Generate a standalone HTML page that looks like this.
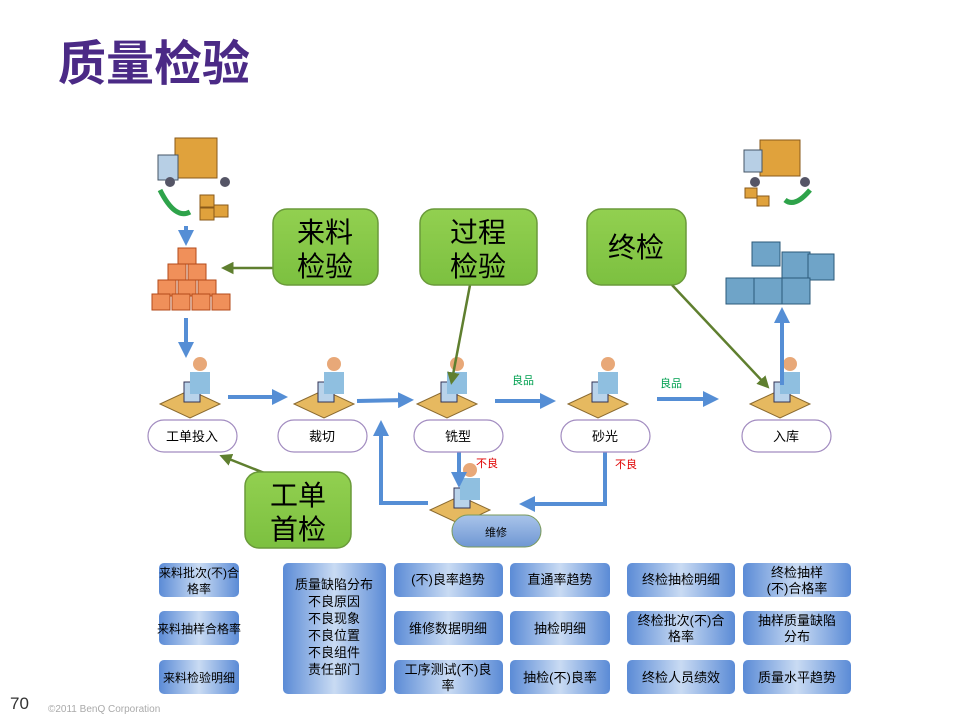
<!DOCTYPE html>
<html><head><meta charset="utf-8"><style>
body{margin:0;width:960px;height:720px;background:#fff;overflow:hidden;font-family:"Liberation Sans","Noto Sans CJK SC",sans-serif;}
text{font-family:"Liberation Sans","Noto Sans CJK SC",sans-serif;}
</style></head><body>
<svg width="960" height="720" viewBox="0 0 960 720" xmlns="http://www.w3.org/2000/svg">
<defs>
<marker id="ab" markerWidth="4" markerHeight="4" refX="2.5" refY="2" orient="auto"><path d="M0,0 L4,2 L0,4 z" fill="#558ed5"/></marker>
<marker id="ag" markerWidth="5" markerHeight="5" refX="3" refY="2.5" orient="auto"><path d="M0,0 L5,2.5 L0,5 z" fill="#5f7f2f"/></marker>
<linearGradient id="gb" x1="0" x2="1"><stop offset="0" stop-color="#5b8bd6"/><stop offset="0.5" stop-color="#c9dbf3"/><stop offset="1" stop-color="#5b8bd6"/></linearGradient>
<linearGradient id="gg" x1="0" y1="0" x2="0" y2="1"><stop offset="0" stop-color="#92d050"/><stop offset="1" stop-color="#7cc040"/></linearGradient>
<linearGradient id="gr" x1="0" y1="0" x2="0" y2="1"><stop offset="0" stop-color="#a9c4ea"/><stop offset="1" stop-color="#6f97d3"/></linearGradient>
<g id="desk"><path d="M-30,12 L0,-2 L30,12 L0,26 z" fill="#e6b960" stroke="#8a6a30"/><rect x="-6" y="-10" width="16" height="20" fill="#b9d3ea" stroke="#335"/><circle cx="10" cy="-28" r="7" fill="#e8a878"/><path d="M0,-20 h20 v22 h-20 z" fill="#8fbfe0"/></g>
</defs>
<text x="58" y="80" font-size="48" font-weight="bold" fill="#4b2a86">质量检验</text>

<rect x="175" y="138" width="42" height="40" fill="#e0a23c" stroke="#8a5a1a"/>
<rect x="158" y="155" width="20" height="25" fill="#b7cfe5" stroke="#456"/>
<circle cx="170" cy="182" r="5" fill="#556"/><circle cx="225" cy="182" r="5" fill="#556"/>
<path d="M160,190 q15,30 30,22" stroke="#2ea34a" stroke-width="5" fill="none"/>
<rect x="200" y="195" width="14" height="12" fill="#e0a23c" stroke="#8a5a1a"/><rect x="214" y="205" width="14" height="12" fill="#e0a23c" stroke="#8a5a1a"/><rect x="200" y="208" width="14" height="12" fill="#e0a23c" stroke="#8a5a1a"/>
<g fill="#f0905a" stroke="#b34a1a">
<rect x="178" y="248" width="18" height="16"/>
<rect x="168" y="264" width="18" height="16"/><rect x="188" y="264" width="18" height="16"/>
<rect x="158" y="280" width="18" height="16"/><rect x="178" y="280" width="18" height="16"/><rect x="198" y="280" width="18" height="16"/>
<rect x="152" y="294" width="18" height="16"/><rect x="172" y="294" width="18" height="16"/><rect x="192" y="294" width="18" height="16"/><rect x="212" y="294" width="18" height="16"/>
</g>
<rect x="760" y="140" width="40" height="36" fill="#e0a23c" stroke="#8a5a1a"/>
<rect x="744" y="150" width="18" height="22" fill="#b7cfe5" stroke="#456"/>
<circle cx="755" cy="182" r="5" fill="#556"/><circle cx="805" cy="182" r="5" fill="#556"/>
<path d="M785,200 q10,8 25,-10" stroke="#2ea34a" stroke-width="5" fill="none"/>
<rect x="745" y="188" width="12" height="10" fill="#e0a23c" stroke="#8a5a1a"/><rect x="757" y="196" width="12" height="10" fill="#e0a23c" stroke="#8a5a1a"/>
<g fill="#6fa4c8" stroke="#2b5a7a">
<rect x="752" y="242" width="28" height="24"/>
<rect x="782" y="252" width="28" height="26"/><rect x="808" y="254" width="26" height="26"/>
<rect x="726" y="278" width="28" height="26"/><rect x="754" y="278" width="28" height="26"/><rect x="782" y="278" width="28" height="26"/>
</g>

<use href="#desk" x="190" y="392"/>
<use href="#desk" x="324" y="392"/>
<use href="#desk" x="447" y="392"/>
<use href="#desk" x="598" y="392"/>
<use href="#desk" x="780" y="392"/>
<use href="#desk" x="460" y="498"/>

<g stroke="#558ed5" stroke-width="4" fill="none" marker-end="url(#ab)">
<line x1="186" y1="226" x2="186" y2="240"/>
<line x1="186" y1="318" x2="186" y2="352"/>
<line x1="228" y1="397" x2="282" y2="397"/>
<line x1="357" y1="401" x2="408" y2="400"/>
<line x1="495" y1="401" x2="550" y2="401"/>
<line x1="657" y1="399" x2="713" y2="399"/>
<line x1="459" y1="452" x2="459" y2="482"/>
<polyline points="605,452 605,504 525,504"/>
<polyline points="428,503 381,503 381,426"/>
<line x1="782" y1="385" x2="782" y2="313"/>
</g>
<text x="512" y="384" font-size="11" fill="#00a050">良品</text>
<text x="660" y="387" font-size="11" fill="#00a050">良品</text>
<text x="476" y="467" font-size="11" fill="#e00000">不良</text>
<text x="615" y="468" font-size="11" fill="#e00000">不良</text>

<g stroke="#5f7f2f" stroke-width="2.5" fill="none" marker-end="url(#ag)">
<line x1="273" y1="268" x2="226" y2="268"/>
<line x1="470" y1="285" x2="452" y2="380"/>
<line x1="672" y1="285" x2="766" y2="385"/>
<line x1="282" y1="480" x2="224" y2="457"/>
</g>

<g fill="url(#gg)" stroke="#6a9a3a" stroke-width="1.5">
<rect x="273" y="209" width="105" height="76" rx="14"/>
<rect x="420" y="209" width="117" height="76" rx="14"/>
<rect x="587" y="209" width="99" height="76" rx="14"/>
<rect x="245" y="472" width="106" height="76" rx="14"/>
</g>
<g font-size="28" text-anchor="middle" fill="#000">
<text x="325" y="242">来料</text><text x="325" y="276">检验</text>
<text x="478" y="242">过程</text><text x="478" y="276">检验</text>
<text x="636" y="257">终检</text>
<text x="298" y="505">工单</text><text x="298" y="539">首检</text>
</g>

<g fill="#fff" stroke="#a28cc0" stroke-width="1.2">
<rect x="148" y="420" width="89" height="32" rx="16"/>
<rect x="278" y="420" width="89" height="32" rx="16"/>
<rect x="414" y="420" width="89" height="32" rx="16"/>
<rect x="561" y="420" width="89" height="32" rx="16"/>
<rect x="742" y="420" width="89" height="32" rx="16"/>
</g>
<rect x="452" y="515" width="89" height="32" rx="16" fill="url(#gr)" stroke="#7a9a5a"/>
<g font-size="13" text-anchor="middle" fill="#000">
<text x="192" y="441">工单投入</text><text x="322" y="441">裁切</text><text x="458" y="441">铣型</text>
<text x="605" y="441">砂光</text><text x="786" y="441">入库</text><text x="496" y="536" font-size="11">维修</text>
</g>

<g fill="url(#gb)">
<rect x="159" y="563" width="80" height="34" rx="5"/><rect x="159" y="611" width="80" height="34" rx="5"/><rect x="159" y="660" width="80" height="34" rx="5"/>
<rect x="283" y="563" width="103" height="131" rx="5"/>
<rect x="394" y="563" width="109" height="34" rx="5"/><rect x="394" y="611" width="109" height="34" rx="5"/><rect x="394" y="660" width="109" height="34" rx="5"/>
<rect x="510" y="563" width="100" height="34" rx="5"/><rect x="510" y="611" width="100" height="34" rx="5"/><rect x="510" y="660" width="100" height="34" rx="5"/>
<rect x="627" y="563" width="108" height="34" rx="5"/><rect x="627" y="611" width="108" height="34" rx="5"/><rect x="627" y="660" width="108" height="34" rx="5"/>
<rect x="743" y="563" width="108" height="34" rx="5"/><rect x="743" y="611" width="108" height="34" rx="5"/><rect x="743" y="660" width="108" height="34" rx="5"/>
</g>
<g font-size="12" text-anchor="middle" fill="#000">
<text x="199" y="577">来料批次(不)合</text><text x="199" y="593">格率</text>
<text x="199" y="633">来料抽样合格率</text>
<text x="199" y="682">来料检验明细</text>
</g>
<g font-size="13" text-anchor="middle" fill="#000">
<text x="334" y="589">质量缺陷分布</text><text x="334" y="606">不良原因</text><text x="334" y="623">不良现象</text><text x="334" y="640">不良位置</text><text x="334" y="657">不良组件</text><text x="334" y="674">责任部门</text>
<text x="448" y="584">(不)良率趋势</text>
<text x="448" y="633">维修数据明细</text>
<text x="448" y="674">工序测试(不)良</text><text x="448" y="690">率</text>
<text x="560" y="584">直通率趋势</text>
<text x="560" y="633">抽检明细</text>
<text x="560" y="682">抽检(不)良率</text>
<text x="681" y="584">终检抽检明细</text>
<text x="681" y="625">终检批次(不)合</text><text x="681" y="641">格率</text>
<text x="681" y="682">终检人员绩效</text>
<text x="797" y="577">终检抽样</text><text x="797" y="593">(不)合格率</text>
<text x="797" y="625">抽样质量缺陷</text><text x="797" y="641">分布</text>
<text x="797" y="682">质量水平趋势</text>
</g>
<text x="10" y="709" font-size="17" fill="#333">70</text>
<text x="48" y="712" font-size="10" fill="#aaa">©2011 BenQ Corporation</text>
</svg>
</body></html>
